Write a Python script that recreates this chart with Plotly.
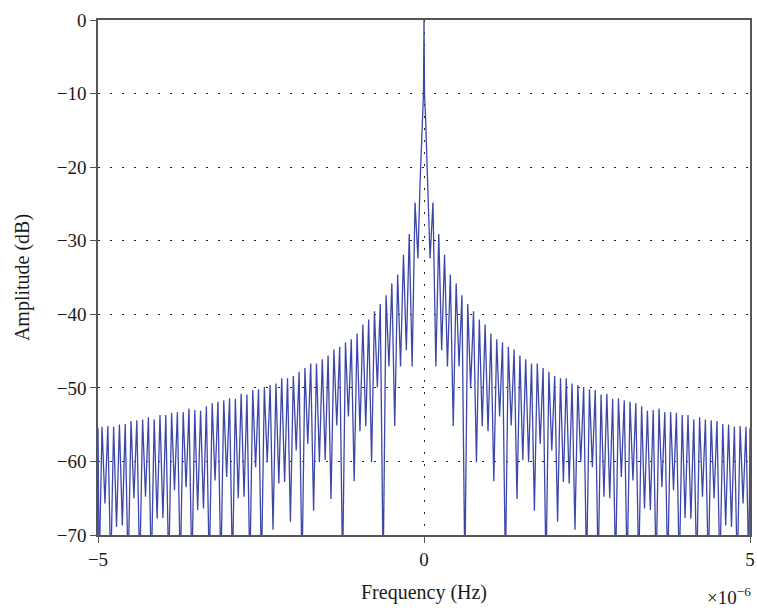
import plotly.graph_objects as go

# ---- data (x in units of 1e-6 Hz, y in dB) ----
# main lobe, right half (mirrored for the left half; the spectrum is symmetric)
main_x = [0.0, 0.008, 0.025, 0.06]
main_db = [0.0, -10.0, -13.5, -22.0]

# regular frequency spacing of the side-lobe nulls
NULL0 = 0.093
LOBE_SPACING = 0.0889
DEEP = -75.0  # nulls that fall below the -70 dB floor

# side-lobe peak levels, lobe 1..55 (right side)
peak_db = [-24.8, -29.1, -31.9, -34.6, -35.8, -37.4, -38.6, -39.6, -40.7, -41.4,
           -42.6, -43.4, -43.8, -44.4, -44.8, -45.6, -46.1, -46.7, -46.7, -47.3,
           -47.8, -48.4, -48.7, -48.7, -49.4, -49.6, -49.9, -50.2, -50.3, -50.9,
           -50.8, -51.5, -51.4, -51.7, -51.9, -52.1, -52.5, -53.1, -53.0, -52.8,
           -53.3, -53.3, -53.4, -53.7, -53.7, -54.3, -54.0, -54.3, -54.4, -54.5,
           -54.9, -55.0, -55.3, -55.2, -55.3]

# null levels, null 0..55 (right side)
null_db = [-32.4, -47.1, -44.9, -47.1, -55.2, -47.1, DEEP, -49.9, -60.1, -55.2,
           -55.9, -62.7, -53.9, DEEP, -55.1, -65.1, -59.8, -60.1, -66.7, -57.6,
           DEEP, -58.5, -68.2, -62.8, -63.0, -69.3, -60.1, DEEP, -60.8, DEEP,
           -64.8, -65.0, DEEP, -62.1, DEEP, -62.6, DEEP, -66.4, -66.6, DEEP,
           -63.5, DEEP, -63.9, DEEP, -67.7, -67.8, DEEP, -64.8, DEEP, -65.0,
           DEEP, -68.7, -68.9, DEEP, -65.7, DEEP]

edge_x = 5.0
edge_db = -55.5

x_ticks = [-5, 0, 5]
y_ticks = [0, -10, -20, -30, -40, -50, -60, -70]

# ---- assemble the trace ----
rx = list(main_x)
ry = list(main_db)
for k, nd in enumerate(null_db):
    rx.append(NULL0 + k * LOBE_SPACING)
    ry.append(nd)
    if k < len(peak_db):
        rx.append(NULL0 + (k + 0.5) * LOBE_SPACING)
        ry.append(peak_db[k])
rx.append(edge_x)
ry.append(edge_db)

lx = [-v for v in reversed(rx[1:])]
ly = list(reversed(ry[1:]))
xs = lx + rx
ys = ly + ry

fig = go.Figure()
fig.add_trace(go.Scatter(x=xs, y=ys, mode="lines",
                         line=dict(color="#3d47a9", width=1.3),
                         showlegend=False, hoverinfo="skip"))

font_family = "Liberation Serif, Times New Roman, serif"
axis_col = "#555555"
text_col = "#1a1a1a"

fig.update_layout(
    width=757, height=612,
    margin=dict(l=98, r=7, t=20, b=77),
    paper_bgcolor="white", plot_bgcolor="white",
    font=dict(family=font_family, size=19, color=text_col),
    xaxis=dict(range=[-5, 5], tickvals=x_ticks, showgrid=True, automargin=False,
               gridcolor="#222", griddash="2px,10px", gridwidth=1,
               zeroline=False, showline=True, linecolor=axis_col, linewidth=1.5,
               mirror=True, ticks="outside", ticklen=6, tickcolor=axis_col,
               tickfont=dict(family=font_family, size=19, color=text_col),
               title=dict(text="Frequency (Hz)", standoff=16,
                          font=dict(family=font_family, size=20, color=text_col))),
    yaxis=dict(range=[-70, 0], tickvals=y_ticks, showgrid=True, automargin=False,
               gridcolor="#222", griddash="2px,10px", gridwidth=1,
               zeroline=False, showline=True, linecolor=axis_col, linewidth=1.5,
               mirror=True, ticks="outside", ticklen=6, tickcolor=axis_col,
               tickfont=dict(family=font_family, size=19, color=text_col),
               title=dict(text="Amplitude (dB)", standoff=22,
                          font=dict(family=font_family, size=20, color=text_col))),
)

fig.add_annotation(text="×10<sup>−6</sup>", xref="paper", yref="paper",
                   x=1.005, y=-0.118, xanchor="right", yanchor="middle",
                   showarrow=False, font=dict(family=font_family, size=19, color=text_col))

fig.write_html("out.html")
